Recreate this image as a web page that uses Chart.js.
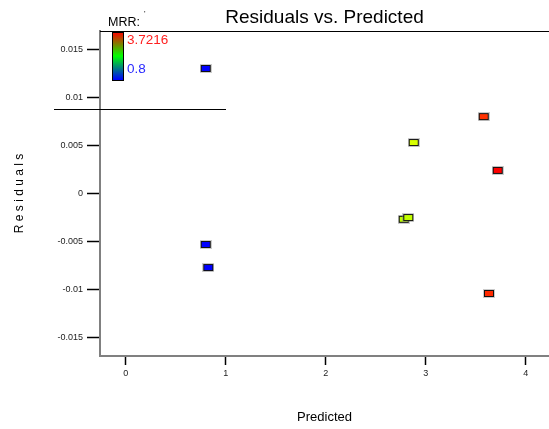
<!DOCTYPE html>
<html>
<head>
<meta charset="utf-8">
<script src="https://cdn.jsdelivr.net/npm/chart.js@4/dist/chart.umd.min.js"></script>
<style>
  html, body { margin: 0; padding: 0; background: #fff; }
  #wrap { width: 549px; height: 429px; position: relative; }
</style>
</head>
<body>
<div id="wrap"><canvas id="residChart" width="549" height="429"></canvas></div>
<script>
// дані
const predicted = [0.80, 0.80, 0.826, 2.78, 2.826, 2.88, 3.58, 3.72, 3.633];
const residuals = [0.0130, -0.0053, -0.0077, -0.00268, -0.0025, 0.0053, 0.0080, 0.0024, -0.0104];
const mrr = [0.8, 0.8, 0.8, 2.80, 2.82, 2.88, 3.58, 3.7216, 3.60];
const yTicks = [-0.015, -0.01, -0.005, 0, 0.005, 0.01, 0.015];
const yTickLabels = ['-0.015', '-0.01', '-0.005', '0', '0.005', '0.01', '0.015'];
const xTicks = [0, 1, 2, 3, 4];
const mrrMin = 0.8;
const mrrMax = 3.7216;

const FONT = '"Liberation Sans", Arial, sans-serif';

// колір від синього (мін) до червоного (макс)
function colorFor(v) {
    const t = Math.min(1, Math.max(0, (v - mrrMin) / (mrrMax - mrrMin)));
    return 'hsl(' + (240 * (1 - t)).toFixed(1) + ',100%,50%)';
}

const markerCache = {};
function marker(color) {
    if (markerCache[color]) return markerCache[color];
    const c = document.createElement('canvas');
    c.width = 12; c.height = 9;
    const g = c.getContext('2d');
    g.fillStyle = 'rgba(140,140,140,0.45)';
    g.fillRect(0, 0, 12, 9);
    g.fillStyle = '#111';
    g.fillRect(1, 1, 10, 7);
    g.fillStyle = color;
    g.fillRect(2, 2, 8, 5);
    markerCache[color] = c;
    return c;
}

const extras = {
    id: 'extras',
    afterDraw(chart) {
        const ctx = chart.ctx;
        const a = chart.chartArea;
        ctx.save();
        // верхня лінія
        ctx.strokeStyle = '#000';
        ctx.lineWidth = 1;
        ctx.beginPath();
        ctx.moveTo(a.left, 31.5);
        ctx.lineTo(a.right, 31.5);
        ctx.moveTo(54, 109.5);
        ctx.lineTo(226, 109.5);
        ctx.stroke();

        // заголовок
        ctx.fillStyle = '#000';
        ctx.font = '19px ' + FONT;
        ctx.textAlign = 'center';
        ctx.textBaseline = 'middle';
        ctx.fillText('Residuals vs. Predicted', (a.left + a.right) / 2, 18);

        // шкала кольору
        const bx = 112, by = 32, bw = 11, bh = 48;
        const grad = ctx.createLinearGradient(0, by, 0, by + bh);
        grad.addColorStop(0, '#ff0000');
        grad.addColorStop(0.5, '#00ff00');
        grad.addColorStop(1, '#0000ff');
        ctx.fillStyle = grad;
        ctx.fillRect(bx, by, bw, bh);
        ctx.strokeStyle = '#000';
        ctx.strokeRect(bx + 0.5, by + 0.5, bw, bh);

        ctx.textAlign = 'left';
        ctx.font = '12.5px ' + FONT;
        ctx.fillStyle = '#000';
        ctx.fillText('MRR:', 108, 23);
        ctx.font = '8px ' + FONT;
        ctx.fillText("'", 144, 14);

        ctx.font = '13.5px ' + FONT;
        ctx.fillStyle = '#ff2020';
        ctx.fillText(String(mrrMax), 127, 40);
        ctx.fillStyle = '#2a2aff';
        ctx.fillText(String(mrrMin), 127, 69);
        ctx.restore();
    }
};

const chartCanvas = document.getElementById('residChart');
new Chart(chartCanvas.getContext('2d'), {
    type: 'scatter',
    data: {
        datasets: [{
            data: predicted.map((p, i) => ({ x: p, y: residuals[i] })),
            pointRadius: 5,
            pointStyle: ctx => marker(colorFor(mrr[ctx.dataIndex])),
            backgroundColor: ctx => colorFor(mrr[ctx.dataIndex])
        }]
    },
    options: {
        responsive: false,
        animation: false,
        events: [],
        layout: { autoPadding: false, padding: { top: 31, right: 0, left: 0, bottom: 0 } },
        plugins: {
            legend: { display: false },
            title: { display: false },
            tooltip: { enabled: false }
        },
        scales: {
            x: {
                type: 'linear',
                min: -0.257,
                max: 4.233,
                afterFit: s => { s.height = 73; s.paddingLeft = 0; s.paddingRight = 0; },
                afterBuildTicks: s => { s.ticks = xTicks.map(v => ({ value: v })); },
                grid: { drawOnChartArea: false, drawTicks: true, tickLength: 9, tickColor: '#000', tickWidth: 1.5 },
                border: { display: true, color: '#808080', width: 2 },
                ticks: { color: '#222', font: { family: FONT, size: 9 }, padding: 3, maxRotation: 0, callback: v => String(v) },
                title: { display: true, text: 'Predicted', color: '#000', font: { family: FONT, size: 13 }, padding: { top: 0, bottom: 4 } }
            },
            y: {
                type: 'linear',
                min: -0.0169,
                max: 0.0169,
                afterFit: s => { s.width = 100; s.paddingTop = 0; s.paddingBottom = 0; },
                afterBuildTicks: s => { s.ticks = yTicks.map(v => ({ value: v })); },
                grid: { drawOnChartArea: false, drawTicks: true, tickLength: 13, tickColor: '#000', tickWidth: 1.5 },
                border: { display: true, color: '#808080', width: 2 },
                ticks: {
                    color: '#222',
                    font: { family: FONT, size: 9 },
                    padding: 4,
                    callback: v => {
                        const i = yTicks.findIndex(t => Math.abs(t - v) < 1e-9);
                        return i >= 0 ? yTickLabels[i] : '';
                    }
                },
                title: { display: true, text: 'R e s i d u a l s', color: '#000', font: { family: FONT, size: 12 }, padding: { top: 12, bottom: 0 } }
            }
        }
    },
    plugins: [extras]
});
</script>
</body>
</html>
